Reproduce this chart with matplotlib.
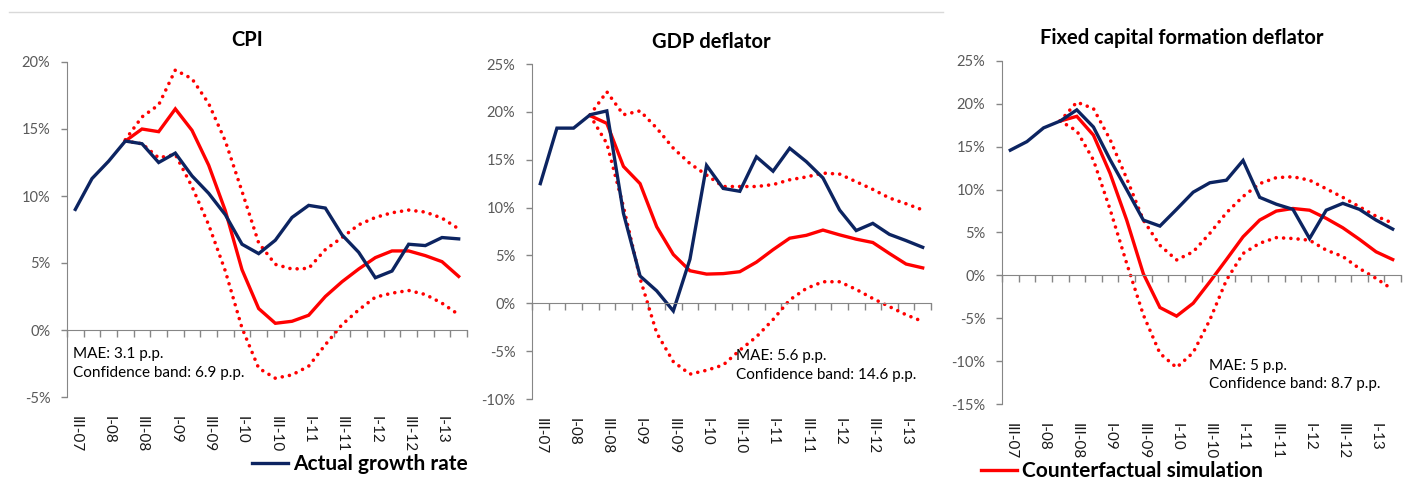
import matplotlib.pyplot as plt
import numpy as np
from matplotlib.ticker import FuncFormatter, MultipleLocator
from matplotlib.lines import Line2D

plt.rcParams["font.family"] = ["Lato", "DejaVu Sans"]

# quarters III-07 .. II-13
quarters = ["III-07", "IV-07", "I-08", "II-08", "III-08", "IV-08", "I-09", "II-09",
            "III-09", "IV-09", "I-10", "II-10", "III-10", "IV-10", "I-11", "II-11",
            "III-11", "IV-11", "I-12", "II-12", "III-12", "IV-12", "I-13", "II-13"]
nan = np.nan

# CPI
cpi_actual = [9.0, 11.3, 12.6, 14.1, 13.9, 12.5, 13.2, 11.5, 10.2, 8.6, 6.4, 5.7,
              6.7, 8.4, 9.3, 9.1, 7.1, 5.8, 3.9, 4.4, 6.4, 6.3, 6.9, 6.8]
cpi_sim = [nan, nan, nan, 14.1, 15.0, 14.8, 16.5, 14.9, 12.3, 8.9, 4.5, 1.6,
           0.5, 0.65, 1.1, 2.5, 3.6, 4.55, 5.4, 5.9, 5.9, 5.55, 5.1, 4.0]
cpi_hi = [nan, nan, nan, 14.2, 15.9, 16.8, 19.4, 18.75, 16.9, 14.1, 10.35, 6.5,
          4.9, 4.55, 4.6, 6.0, 6.9, 7.85, 8.4, 8.75, 8.95, 8.8, 8.35, 7.55]
cpi_lo = [nan, nan, nan, 14.1, 13.9, 12.85, 13.1, 10.7, 7.85, 4.4, 0.15, -2.85,
          -3.6, -3.35, -2.7, -1.1, 0.4, 1.5, 2.45, 2.75, 2.95, 2.65, 2.0, 1.15]

# GDP deflator
gdp_actual = [12.5, 18.3, 18.3, 19.7, 20.1, 9.4, 2.85, 1.3, -0.8, 4.6, 14.4, 12.0,
              11.7, 15.3, 13.8, 16.2, 14.8, 13.1, 9.75, 7.6, 8.35, 7.2, 6.55, 5.85]
gdp_sim = [nan, nan, nan, 19.6, 18.8, 14.3, 12.5, 8.0, 5.1, 3.4, 3.05, 3.1,
           3.3, 4.3, 5.6, 6.8, 7.1, 7.65, 7.15, 6.7, 6.35, 5.2, 4.1, 3.7]
gdp_hi = [nan, nan, nan, 19.7, 22.1, 19.7, 20.1, 18.3, 16.2, 14.6, 13.4, 12.2,
          12.2, 12.2, 12.4, 12.9, 13.2, 13.6, 13.5, 12.7, 11.9, 11.0, 10.4, 9.75]
gdp_lo = [nan, nan, nan, 19.6, 16.7, 10.1, 2.6, -3.1, -6.1, -7.4, -7.0, -6.45,
          -4.9, -3.5, -1.7, 0.35, 1.55, 2.25, 2.25, 1.45, 0.5, -0.35, -1.2, -1.9]

# Fixed capital formation deflator
fcf_actual = [14.6, 15.6, 17.2, 18.0, 19.3, 17.3, 13.5, 10.0, 6.45, 5.75, 7.7, 9.7,
              10.8, 11.1, 13.4, 9.1, 8.3, 7.7, 4.3, 7.6, 8.4, 7.7, 6.45, 5.4]
fcf_sim = [nan, nan, nan, 18.0, 18.55, 16.35, 11.9, 6.45, 0.2, -3.75, -4.75, -3.25,
           -0.75, 1.85, 4.5, 6.45, 7.5, 7.8, 7.6, 6.65, 5.55, 4.2, 2.75, 1.85]
fcf_hi = [nan, nan, nan, 18.0, 20.2, 19.45, 15.85, 11.3, 6.45, 3.5, 1.8, 2.75,
          4.9, 7.3, 9.2, 10.7, 11.4, 11.5, 11.1, 10.1, 9.1, 8.0, 6.9, 6.1]
fcf_lo = [nan, nan, nan, 18.0, 16.85, 13.45, 7.7, 1.4, -4.6, -9.1, -10.75, -9.0,
          -5.2, -0.55, 2.55, 3.75, 4.4, 4.3, 4.1, 2.95, 2.2, 0.8, -0.35, -1.65]

titles = ["CPI", "GDP deflator", "Fixed capital formation deflator"]
notes = ["MAE: 3.1 p.p.\nConfidence band: 6.9 p.p.",
         "MAE: 5.6 p.p.\nConfidence band: 14.6 p.p.",
         "MAE: 5 p.p.\nConfidence band: 8.7 p.p."]

NAVY = "#0c2461"
RED = "#ff0000"
GREY = "#868686"

W, H = 1409, 486
fig = plt.figure(figsize=(W / 100, H / 100), dpi=100)


def px_axes(left, top, right, bottom):
    return fig.add_axes([left / W, 1 - bottom / H, (right - left) / W, (bottom - top) / H])


panels = [
    (px_axes(67, 62, 467, 397), (-5, 20), cpi_actual, cpi_sim, cpi_hi, cpi_lo, (0.015, 0.10)),
    (px_axes(532, 64, 931, 399), (-10, 25), gdp_actual, gdp_sim, gdp_hi, gdp_lo, (0.512, 0.10)),
    (px_axes(1002, 61, 1401, 404), (-15, 25), fcf_actual, fcf_sim, fcf_hi, fcf_lo, (0.52, 0.085)),
]

x = np.arange(len(quarters))
dots = (0, (0.01, 2.0))

handles = {}
for i, (ax, ylim, act, sim, hi, lo, notepos) in enumerate(panels):
    ax.plot(x, hi, color=RED, lw=2.6, ls=dots, dash_capstyle="round")
    ax.plot(x, lo, color=RED, lw=2.6, ls=dots, dash_capstyle="round")
    hs, = ax.plot(x, sim, color=RED, lw=2.4, solid_joinstyle="miter")
    ha, = ax.plot(x, act, color=NAVY, lw=2.4, solid_joinstyle="miter")
    handles["act"], handles["sim"] = ha, hs

    ax.set_xlim(-0.5, len(quarters) - 0.5)
    ax.set_ylim(*ylim)
    ax.yaxis.set_major_locator(MultipleLocator(5))
    ax.yaxis.set_major_formatter(FuncFormatter(lambda v, p: f"{v:.0f}%"))
    ax.tick_params(axis="y", length=4, width=1, color=GREY, pad=8,
                   labelsize=10.5, labelcolor="#595959")

    # horizontal axis crosses at zero, category tick marks between quarters
    for s in ["top", "right"]:
        ax.spines[s].set_visible(False)
    ax.spines["left"].set_color(GREY)
    ax.spines["bottom"].set_position(("data", 0))
    ax.spines["bottom"].set_color(GREY)
    ax.set_xticks(np.arange(-0.5, len(quarters), 1.0))
    ax.set_xticklabels([])
    ax.tick_params(axis="x", length=5, width=1, color=GREY, direction="out")

    # labels at the bottom of the plot
    sec = ax.secondary_xaxis(0)
    sec.set_xticks(x[::2])
    sec.set_xticklabels(quarters[::2], rotation=-90, fontsize=11, color="#1a1a1a")
    sec.tick_params(length=0, pad=14)
    sec.spines["bottom"].set_visible(False)

    ax.text(0.45, 1.066, titles[i], transform=ax.transAxes, ha="center", va="center",
            fontsize=14.5, fontweight="bold")
    ax.text(notepos[0], notepos[1], notes[i], transform=ax.transAxes, ha="left",
            va="center", fontsize=11, linespacing=1.4)

leg_kw = dict(loc="center left", frameon=False, borderpad=0, borderaxespad=0,
              handlelength=1.75, handletextpad=0.2, prop={"size": 15, "weight": "bold"})
fig.legend(handles=[handles["act"]], labels=["Actual growth rate"],
           bbox_to_anchor=(252 / W, 1 - 464 / H), **leg_kw)
fig.legend(handles=[handles["sim"]], labels=["Counterfactual simulation"],
           bbox_to_anchor=(981 / W, 1 - 471 / H), **leg_kw)

fig.add_artist(Line2D([9 / W, 943 / W], [1 - 12 / H, 1 - 12 / H], color="#d9d9d9", lw=1))

fig.savefig("out.png", dpi=100)
